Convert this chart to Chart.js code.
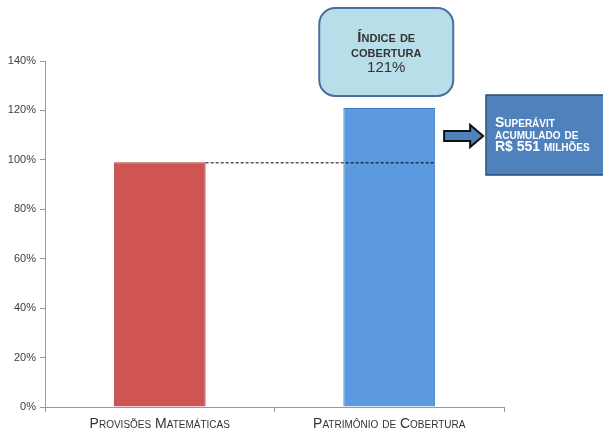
<!DOCTYPE html>
<html>
<head>
<meta charset="utf-8">
<script src="https://cdn.jsdelivr.net/npm/chart.js@4"></script>
<style>
  html, body { margin: 0; padding: 0; background: #fff; }
  #wrap { width: 603px; height: 428px; }
</style>
</head>
<body>
<div id="wrap"><canvas id="chart" width="603" height="428"></canvas></div>
<script>
const categories = ['Provisões Matemáticas', 'Patrimônio de Cobertura'];
const values = [99, 121];
const barColors = ['#cf5452', '#5b9ae0'];
const barBorders = ['#a9403e', '#3f78bd'];
const yTicks = [0, 20, 40, 60, 80, 100, 120, 140];
const indexLines = ['Índice de', 'cobertura', '121%'];
const surplusLines = ['Superávit', 'acumulado de', 'R$ 551 milhões'];

const FONT = '"Liberation Sans", Arial, sans-serif';

// dashed reference line at the level of the first bar, plus the two callouts
const annotations = {
  id: 'annotations',
  afterDatasetsDraw(chart) {
    const ctx = chart.ctx;
    const y = chart.scales.y;
    const bars = chart.getDatasetMeta(0).data;
    const b0 = bars[0], b1 = bars[1];

    ctx.save();
    // dashed line
    const yRef = y.getPixelForValue(values[0]);
    ctx.strokeStyle = '#000';
    ctx.lineWidth = 1;
    ctx.setLineDash([3, 2]);
    ctx.beginPath();
    ctx.moveTo(b0.x + b0.width / 2, yRef + 0.5);
    ctx.lineTo(b1.x + b1.width / 2, yRef + 0.5);
    ctx.stroke();
    ctx.setLineDash([]);

    // rounded callout above second bar
    const cx = b1.x - 3;
    const bw = 134, bh = 88, bt = 8;
    ctx.beginPath();
    ctx.roundRect(cx - bw / 2, bt, bw, bh, 16);
    ctx.fillStyle = '#b8dfe9';
    ctx.fill();
    ctx.lineWidth = 2;
    ctx.strokeStyle = '#4a6f9c';
    ctx.stroke();
    ctx.fillStyle = '#333';
    ctx.textAlign = 'center';
    ctx.textBaseline = 'middle';
    ctx.font = 'small-caps bold 15px ' + FONT;
    ctx.fillText(indexLines[0], cx, 38);
    ctx.fillText(indexLines[1], cx, 53);
    ctx.font = '15px ' + FONT;
    ctx.fillText(indexLines[2], cx, 68);

    // arrow
    const ax = b1.x + b1.width / 2 + 9;
    const ay = 136;
    ctx.beginPath();
    ctx.moveTo(ax, ay - 5);
    ctx.lineTo(ax + 26, ay - 5);
    ctx.lineTo(ax + 26, ay - 11);
    ctx.lineTo(ax + 39, ay);
    ctx.lineTo(ax + 26, ay + 11);
    ctx.lineTo(ax + 26, ay + 5);
    ctx.lineTo(ax, ay + 5);
    ctx.closePath();
    ctx.fillStyle = '#4f81bd';
    ctx.fill();
    ctx.lineWidth = 2;
    ctx.strokeStyle = '#111';
    ctx.stroke();

    // surplus box
    const rx = 486, ry = 95, rw = 120, rh = 80;
    ctx.fillStyle = '#4f81bd';
    ctx.fillRect(rx, ry, rw, rh);
    ctx.lineWidth = 1.5;
    ctx.strokeStyle = '#2c4d75';
    ctx.strokeRect(rx, ry, rw, rh);
    ctx.fillStyle = '#fff';
    ctx.textAlign = 'left';
    ctx.font = 'small-caps bold 14px ' + FONT;
    ctx.fillText(surplusLines[0], rx + 9, 123);
    ctx.fillText(surplusLines[1], rx + 9, 135);
    ctx.fillText(surplusLines[2], rx + 9, 147);
    ctx.restore();
  }
};

new Chart(document.getElementById('chart'), {
  type: 'bar',
  data: {
    labels: categories,
    datasets: [{
      data: values,
      backgroundColor: barColors,
      borderColor: barBorders,
      borderWidth: 1,
      barPercentage: 0.4,
      categoryPercentage: 1
    }]
  },
  options: {
    responsive: false,
    animation: false,
    layout: { padding: { top: 61, right: 99, bottom: 0, left: 0 } },
    plugins: { legend: { display: false }, tooltip: { enabled: false } },
    scales: {
      x: {
        grid: { drawOnChartArea: false, color: '#999', tickLength: 5, offset: true },
        border: { color: '#999' },
        ticks: {
          color: '#333',
          padding: 4,
          // weight slot used to get small caps into the canvas font string
          font: { family: FONT, size: 14, weight: 'small-caps' }
        },
        afterFit(s) { s.height = 21; }
      },
      y: {
        min: 0,
        max: 140,
        afterBuildTicks(s) { s.ticks = yTicks.map(v => ({ value: v })); },
        grid: { drawOnChartArea: false, color: '#999', tickLength: 5 },
        border: { color: '#999' },
        ticks: {
          color: '#404040',
          padding: 4,
          font: { family: FONT, size: 11 },
          callback: v => v + '%'
        },
        afterFit(s) { s.width = 45; }
      }
    }
  },
  plugins: [annotations]
});
</script>
</body>
</html>
